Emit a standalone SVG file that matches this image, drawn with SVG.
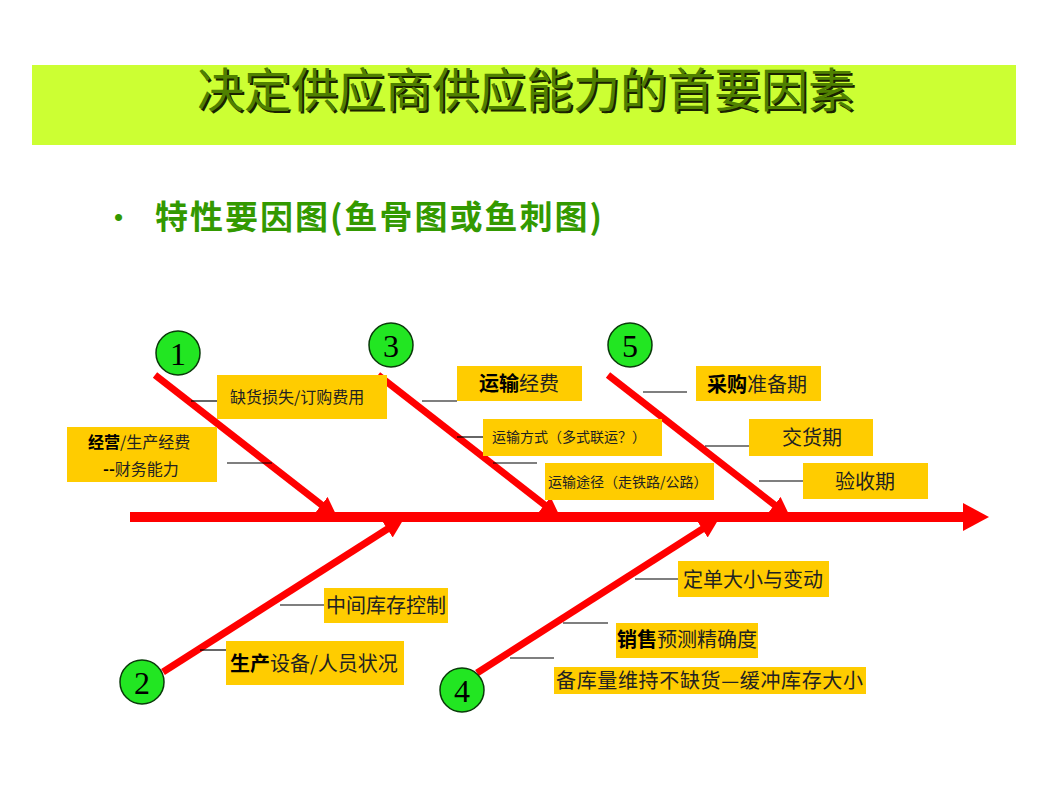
<svg xmlns="http://www.w3.org/2000/svg" width="1055" height="787" viewBox="0 0 1055 787">
<style>
.cjk{font-family:"Noto Sans CJK SC","Noto Sans",sans-serif}
.title{font-size:47px;font-weight:normal}
.box{fill:#ffcc00}
.lbl{font-size:20px;fill:#222}
.sm{font-size:14px}
.md{font-size:16px}
.b{font-weight:bold;fill:#000}
.tick{stroke:#000;stroke-width:1.2}
.bone{stroke:#ff0000;stroke-width:7;fill:none}
.circ{fill:#22e622;stroke:#0a3a0a;stroke-width:1.5}
.num{font-family:"Liberation Serif",serif;font-size:32px;fill:#000;text-anchor:middle}
</style>
<defs>
<marker id="ah" viewBox="0 0 20 20" refX="2" refY="10" markerWidth="20" markerHeight="20" markerUnits="userSpaceOnUse" orient="auto">
<path d="M0,0 L20,10 L0,20 z" fill="#ff0000"/>
</marker>
</defs>
<rect width="1055" height="787" fill="#fff"/>
<g id="title">
<rect x="32" y="65" width="984" height="80" fill="#ccff33"/>
<text class="cjk title" x="528" y="109" fill="#1a2200" text-anchor="middle">决定供应商供应能力的首要因素</text>
<text class="cjk title" x="526" y="107" fill="#4f8000" text-anchor="middle">决定供应商供应能力的首要因素</text>
</g>
<g id="subtitle">
<text x="114" y="226" font-family="Liberation Sans,sans-serif" font-size="26" fill="#339900">•</text>
<text class="cjk" x="155" y="229" font-size="33" font-weight="bold" fill="#339900" letter-spacing="2">特性要因图(鱼骨图或鱼刺图)</text>
</g>
<g id="connectors">
<line x1="130" y1="517" x2="966" y2="517" stroke="#ff0000" stroke-width="10"/>
<polygon points="963,503 989,517 963,531" fill="#ff0000"/>
<line class="bone" x1="155" y1="375" x2="323" y2="506" marker-end="url(#ah)"/>
<line class="bone" x1="378" y1="375" x2="546" y2="506" marker-end="url(#ah)"/>
<line class="bone" x1="608" y1="375" x2="776" y2="506" marker-end="url(#ah)"/>
<line class="bone" x1="163" y1="672" x2="389" y2="528" marker-end="url(#ah)"/>
<line class="bone" x1="477" y1="673" x2="704" y2="528" marker-end="url(#ah)"/>
<line class="tick" x1="191" y1="401" x2="217" y2="401"/>
<line class="tick" x1="227" y1="463" x2="272" y2="463"/>
<line class="tick" x1="422" y1="401" x2="457" y2="401"/>
<line class="tick" x1="457" y1="437" x2="483" y2="437"/>
<line class="tick" x1="493" y1="463" x2="537" y2="463"/>
<line class="tick" x1="643" y1="392" x2="687" y2="392"/>
<line class="tick" x1="705" y1="446" x2="749" y2="446"/>
<line class="tick" x1="759" y1="481" x2="803" y2="481"/>
<line class="tick" x1="280" y1="605" x2="324" y2="605"/>
<line class="tick" x1="200" y1="650" x2="226" y2="650"/>
<line class="tick" x1="635" y1="579" x2="678" y2="579"/>
<line class="tick" x1="563" y1="623" x2="608" y2="623"/>
<line class="tick" x1="510" y1="658" x2="554" y2="658"/>
</g>
<g id="n1"><circle class="circ" cx="178" cy="353" r="22"/><text class="num" x="178" y="365">1</text></g>
<g id="n3"><circle class="circ" cx="391" cy="345" r="22"/><text class="num" x="391" y="357">3</text></g>
<g id="n5"><circle class="circ" cx="630" cy="345" r="22"/><text class="num" x="630" y="357">5</text></g>
<g id="n2"><circle class="circ" cx="142" cy="682" r="22"/><text class="num" x="142" y="694">2</text></g>
<g id="n4"><circle class="circ" cx="462" cy="690" r="22"/><text class="num" x="462" y="702" font-family="Liberation Sans,sans-serif" font-size="30">4</text></g>
<g id="l-quehuo"><rect class="box" x="217" y="375" width="170" height="44"/><text class="cjk lbl md" x="230" y="403" font-size="17">缺货损失/订购费用</text></g>
<g id="l-jingying"><rect class="box" x="67" y="427" width="150" height="55"/><text class="cjk lbl md" x="88" y="448"><tspan class="b">经营</tspan>/生产经费</text><text class="cjk lbl md" x="103" y="475"><tspan class="b">--</tspan>财务能力</text></g>
<g id="l-yunshujingfei"><rect class="box" x="457" y="366" width="125" height="35"/><text class="cjk lbl" x="479" y="391"><tspan class="b">运输</tspan>经费</text></g>
<g id="l-yunshufangshi"><rect class="box" x="483" y="419" width="179" height="37"/><text class="cjk lbl sm" x="492" y="442">运输方式（多式联运？）</text></g>
<g id="l-yunshutujing"><rect class="box" x="545" y="463" width="169" height="37"/><text class="cjk lbl sm" x="548" y="487">运输途径（走铁路/公路）</text></g>
<g id="l-caigou"><rect class="box" x="696" y="366" width="125" height="35"/><text class="cjk lbl" x="707" y="392"><tspan class="b">采购</tspan>准备期</text></g>
<g id="l-jiaohuo"><rect class="box" x="749" y="419" width="124" height="37"/><text class="cjk lbl" x="782" y="445">交货期</text></g>
<g id="l-yanshou"><rect class="box" x="803" y="463" width="125" height="36"/><text class="cjk lbl" x="835" y="489">验收期</text></g>
<g id="l-zhongjian"><rect class="box" x="324" y="588" width="124" height="35"/><text class="cjk lbl" x="326" y="613">中间库存控制</text></g>
<g id="l-shengchan"><rect class="box" x="226" y="641" width="178" height="44"/><text class="cjk lbl" x="230" y="671"><tspan class="b">生产</tspan>设备/人员状况</text></g>
<g id="l-dingdan"><rect class="box" x="678" y="561" width="151" height="36"/><text class="cjk lbl" x="683" y="587">定单大小与变动</text></g>
<g id="l-xiaoshou"><rect class="box" x="616" y="623" width="142" height="35"/><text class="cjk lbl" x="617" y="647"><tspan class="b">销售</tspan>预测精确度</text></g>
<g id="l-beiku"><rect class="box" x="554" y="667" width="312" height="27"/><text class="cjk lbl" x="556" y="688" textLength="307" lengthAdjust="spacing">备库量维持不缺货—缓冲库存大小</text></g>
</svg>
